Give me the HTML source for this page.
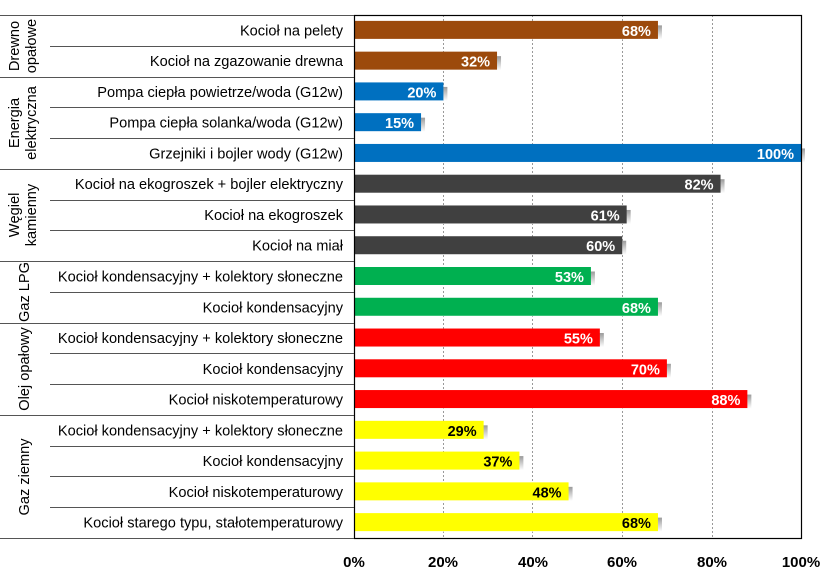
<!DOCTYPE html>
<html><head><meta charset="utf-8"><style>
body{margin:0;background:#fff;}
svg{display:block;font-family:"Liberation Sans",Arial,sans-serif;}
</style></head><body>
<svg width="825" height="575" viewBox="0 0 825 575" xmlns="http://www.w3.org/2000/svg">
<defs><linearGradient id="sh" x1="0" y1="0" x2="0" y2="1"><stop offset="0" stop-color="#9a9a9a"/><stop offset="1" stop-color="#ffffff"/></linearGradient></defs>
<g stroke="#999" stroke-dasharray="2,2" stroke-width="1">
<line x1="443.5" y1="15" x2="443.5" y2="538"/><line x1="532.5" y1="15" x2="532.5" y2="538"/>
<line x1="622.5" y1="15" x2="622.5" y2="538"/><line x1="712.5" y1="15" x2="712.5" y2="538"/>
</g>
<g id="bars"></g>
<rect x="354.5" y="15.5" width="447" height="523" fill="none" stroke="#000" stroke-width="1.2"/>
<g stroke="#555" stroke-width="1">
<line x1="0" y1="15.5" x2="354" y2="15.5"/>
<line x1="0" y1="538.5" x2="354" y2="538.5"/>
</g>
<g id="lines" stroke="#555" stroke-width="1"></g>
<g id="labels" font-size="14.6" text-anchor="end" fill="#000"></g>
<g font-size="14.6" fill="#000" text-anchor="middle">
<text transform="translate(19,46) rotate(-90)">Drewno</text>
<text transform="translate(36,46) rotate(-90)">opałowe</text>
<text transform="translate(19,123) rotate(-90)">Energia</text>
<text transform="translate(36,123) rotate(-90)">elektryczna</text>
<text transform="translate(19,215) rotate(-90)">Węgiel</text>
<text transform="translate(36,215) rotate(-90)">kamienny</text>
<text transform="translate(29,292) rotate(-90)">Gaz LPG</text>
<text transform="translate(29,369) rotate(-90)">Olej opałowy</text>
<text transform="translate(29,477) rotate(-90)">Gaz ziemny</text>
</g>
<g font-size="15" font-weight="bold" text-anchor="middle" fill="#000">
<text x="354" y="567">0%</text><text x="443" y="567">20%</text><text x="533" y="567">40%</text>
<text x="622" y="567">60%</text><text x="712" y="567">80%</text><text x="801" y="567">100%</text>
</g>
<script>
var d=[["Kocioł na pelety",68,"#9c4a0c","#fff"],["Kocioł na zgazowanie drewna",32,"#9c4a0c","#fff"],
["Pompa ciepła powietrze/woda (G12w)",20,"#0070c0","#fff"],["Pompa ciepła solanka/woda (G12w)",15,"#0070c0","#fff"],["Grzejniki i bojler wody (G12w)",100,"#0070c0","#fff"],
["Kocioł na ekogroszek + bojler elektryczny",82,"#404040","#fff"],["Kocioł na ekogroszek",61,"#404040","#fff"],["Kocioł na miał",60,"#404040","#fff"],
["Kocioł kondensacyjny + kolektory słoneczne",53,"#00b050","#fff"],["Kocioł kondensacyjny",68,"#00b050","#fff"],
["Kocioł kondensacyjny + kolektory słoneczne",55,"#ff0000","#fff"],["Kocioł kondensacyjny",70,"#ff0000","#fff"],["Kocioł niskotemperaturowy",88,"#ff0000","#fff"],
["Kocioł kondensacyjny + kolektory słoneczne",29,"#ffff00","#000"],["Kocioł kondensacyjny",37,"#ffff00","#000"],["Kocioł niskotemperaturowy",48,"#ffff00","#000"],["Kocioł starego typu, stałotemperaturowy",68,"#ffff00","#000"]];
var groupEnd={1:1,4:1,7:1,9:1,12:1};
var ns="http://www.w3.org/2000/svg",h=523/17;
function el(p,t,a,txt){var e=document.createElementNS(ns,t);for(var k in a)e.setAttribute(k,a[k]);if(txt)e.textContent=txt;document.getElementById(p).appendChild(e);}
d.forEach(function(r,i){var y0=15+i*h,c=y0+h/2,w=r[1]*4.47;
el("bars","rect",{x:356,y:c-5,width:w+2,height:14,fill:"url(#sh)"});
el("bars","rect",{x:354,y:c-9.5,width:w,height:18,fill:r[2]});
el("bars","text",{x:354+w-7,y:c+5.5,"font-size":14.5,"font-weight":"bold","text-anchor":"end",fill:r[3]},r[1]+"%");
el("labels","text",{x:343,y:c+5},r[0]);
if(i<16){var yy=Math.round(y0+h)+0.5;el("lines","line",{x1:groupEnd[i]?0:50,y1:yy,x2:354,y2:yy});}
});
</script>
</svg>
</body></html>
